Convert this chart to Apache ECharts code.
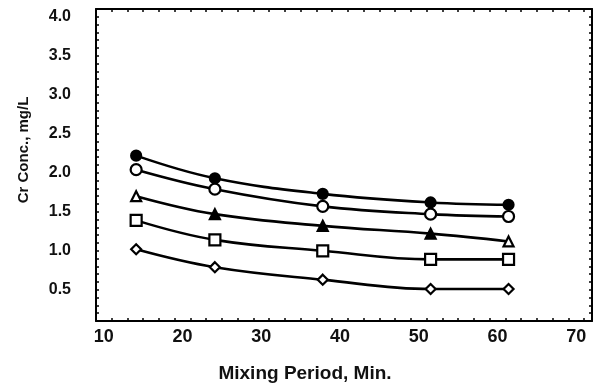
<!DOCTYPE html>
<html>
<head>
<meta charset="utf-8">
<script src="https://cdn.jsdelivr.net/npm/echarts@6/dist/echarts.min.js"></script>
<style>html,body{margin:0;padding:0;background:#fff;}#c{width:602px;height:387px;}</style>
</head>
<body>
<div id="c"></div>
<script>
// Data
const xMinutes = [14.1, 24.1, 37.8, 51.5, 61.4];
const seriesFilledCircle = [2.22, 1.93, 1.73, 1.62, 1.59];
const seriesOpenCircle = [2.04, 1.79, 1.57, 1.47, 1.44];
const seriesTriangle = [1.70, 1.47, 1.32, 1.22, 1.12];
const seriesSquare = [1.39, 1.14, 1.00, 0.89, 0.89];
const seriesDiamond = [1.02, 0.79, 0.63, 0.51, 0.51];
const xTitle = 'Mixing Period, Min.';
const yTitle = 'Cr Conc., mg/L';

const FONT = '"Liberation Sans", Arial, sans-serif';
const pairs = (ys) => xMinutes.map((x, i) => [x, ys[i]]);

function mkSeries(ys, symbol, filled, size, perPoint) {
  return {
    type: 'line',
    xAxisIndex: 0, yAxisIndex: 0,
    smooth: 0.4,
    data: pairs(ys).map((p, i) => {
      const f = perPoint ? perPoint(i) : filled;
      return { value: p, itemStyle: { color: f ? '#000' : '#fff' } };
    }),
    symbol: symbol,
    symbolSize: size,
    lineStyle: { color: '#000', width: 2.6 },
    itemStyle: { borderColor: '#000', borderWidth: 2.2 },
    z: 3
  };
}

const chart = echarts.init(document.getElementById('c'), null, { renderer: 'canvas' });
const tickInside = { show: true, inside: true, length: 3, lineStyle: { color: '#000', width: 1.5 } };
const axisLineStyle = { show: true, lineStyle: { color: '#000', width: 2 } };

chart.setOption({
  animation: false,
  backgroundColor: '#fff',
  grid: { left: 96, right: 10, top: 9, bottom: 66, containLabel: false },
  xAxis: [
    {
      type: 'value', position: 'bottom', min: 9, max: 72, interval: 1,
      axisLine: axisLineStyle, axisTick: { show: false }, splitLine: { show: false },
      axisLabel: {
        margin: 7, color: '#111', fontFamily: FONT, fontWeight: 'bold', fontSize: 18,
        formatter: (v) => (Math.round(v) % 10 === 0 ? String(Math.round(v)) : '')
      }
    },
    {
      type: 'value', position: 'bottom', min: 9, max: 72, interval: 2,
      axisLine: { show: false }, axisTick: tickInside, axisLabel: { show: false }, splitLine: { show: false }
    },
    {
      type: 'value', position: 'top', min: 9, max: 72, interval: 2,
      axisLine: axisLineStyle, axisTick: tickInside, axisLabel: { show: false }, splitLine: { show: false }
    }
  ],
  yAxis: [
    {
      type: 'value', position: 'left', min: 0.1, max: 4.1, interval: 0.1,
      axisLine: axisLineStyle, axisTick: tickInside, splitLine: { show: false },
      axisLabel: {
        margin: 25, color: '#111', fontFamily: FONT, fontWeight: 'bold', fontSize: 16,
        formatter: (v) => { const r = Math.round(v * 10); return r % 5 === 0 ? (r / 10).toFixed(1) : ''; }
      }
    },
    {
      type: 'value', position: 'right', min: 0.1, max: 4.1, interval: 0.1,
      axisLine: axisLineStyle, axisTick: tickInside, axisLabel: { show: false }, splitLine: { show: false }
    }
  ],
  graphic: [
    {
      type: 'text', left: null, x: 305, y: 374,
      style: { text: xTitle, fill: '#111', font: 'bold 19px ' + FONT, textAlign: 'center', textVerticalAlign: 'middle' }
    },
    {
      type: 'text', x: 24, y: 150, rotation: Math.PI / 2,
      style: { text: yTitle, fill: '#111', font: 'bold 15px ' + FONT, textAlign: 'center', textVerticalAlign: 'middle' }
    }
  ],
  series: [
    mkSeries(seriesFilledCircle, 'circle', true, 10),
    mkSeries(seriesOpenCircle, 'circle', false, 11),
    mkSeries(seriesTriangle, 'triangle', true, 10, (i) => i > 0 && i < xMinutes.length - 1),
    mkSeries(seriesSquare, 'rect', false, 11),
    mkSeries(seriesDiamond, 'diamond', false, 10)
  ]
});
</script>
</body>
</html>
